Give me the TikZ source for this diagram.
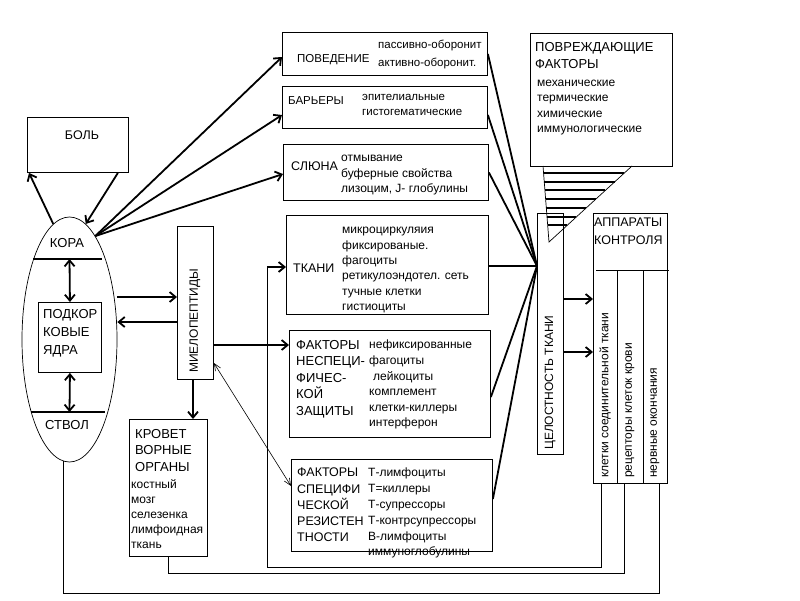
\documentclass[tikz,border=0pt]{standalone}
\usepackage{fontspec}
\setmainfont{Liberation Sans}
\usetikzlibrary{arrows.meta,shapes.geometric}
\tikzset{
  box/.style={draw, line width=0.9pt, anchor=north west, inner sep=0pt},
  lst/.style={anchor=north west, inner sep=0pt, align=left, font=\fontsize{12}{15.5}\selectfont, execute at begin node=\strut},
  ttl/.style={anchor=north west, inner sep=0pt, align=left, font=\fontsize{13}{16.5}\selectfont, execute at begin node=\strut},
  lbl/.style={anchor=west, inner sep=0pt, font=\fontsize{12.5}{15}\selectfont},
  vert/.style={rotate=90, anchor=west, inner sep=0pt, font=\fontsize{12}{14}\selectfont},
  barb/.tip={Straight Barb[length=6pt,width=10pt]},
  arr/.style={line width=1.8pt, -barb},
  dbl/.style={line width=1.8pt, barb-barb},
  wire/.style={line width=1pt},
  conv/.style={line width=1.8pt},
}
\begin{document}
\begin{tikzpicture}[x=1pt, y=-1pt]
\useasboundingbox (0,0) rectangle (800,600);

\node[box, minimum width=101pt, minimum height=55pt] (bol) at (27,117) {};
\node[box, minimum width=205pt, minimum height=43pt] (pov) at (282,32) {};
\node[box, minimum width=205pt, minimum height=42pt] (bar) at (282,86) {};
\node[box, minimum width=205pt, minimum height=56pt] (sl) at (283,144) {};
\node[box, minimum width=202pt, minimum height=99pt] (tk) at (286,215) {};
\node[box, minimum width=201pt, minimum height=107pt] (nsp) at (289,330) {};
\node[box, minimum width=201pt, minimum height=92pt] (spc) at (291,459) {};
\node[box, minimum width=142pt, minimum height=133pt] (povr) at (530,33) {};
\node[box, minimum width=26pt, minimum height=241pt] (cel) at (537,213) {};
\node[box, minimum width=74pt, minimum height=270pt] (app) at (593,213) {};
\node[box, minimum width=36pt, minimum height=153pt] (miel) at (177,226) {};
\node[box, minimum width=63pt, minimum height=70pt] (podk) at (38,302) {};
\node[box, minimum width=78pt, minimum height=137pt] (krov) at (129,419) {};
\node[draw, ellipse, line width=0.7pt, inner sep=0pt, minimum width=95pt, minimum height=245pt] (gm) at (69.5,339.5) {};

\node[lbl, anchor=center] (bolt) at (82,135) {БОЛЬ};
\node[lbl, font=\fontsize{11.5}{14}\selectfont] (povt) at (297,60) {ПОВЕДЕНИЕ};
\node[lst, font=\fontsize{11.5}{18}\selectfont] (povl) at (378,39.4) {пассивно-оборонит\\активно-оборонит.};
\node[lbl, font=\fontsize{11.5}{14}\selectfont] (bart) at (288,101) {БАРЬЕРЫ};
\node[lst, font=\fontsize{11.5}{15}\selectfont] (barl) at (362,94.5) {эпителиальные\\гистогематические};
\node[lbl] (slt) at (291,166) {СЛЮНА};
\node[lst] (sll) at (341,155) {отмывание\\буферные свойства\\лизоцим, J- глобулины};
\node[lbl] (tkt) at (293,268) {ТКАНИ};
\node[lst, font=\fontsize{12}{15.4}\selectfont] (tkl) at (342,227) {микроциркуляия\\фиксированые.\\фагоциты\\ретикулоэндотел. сеть\\тучные клетки\\гистиоциты};
\node[ttl] (nspt) at (296,340) {ФАКТОРЫ\\НЕСПЕЦИ-\\ФИЧЕС-\\КОЙ\\ЗАЩИТЫ};
\node[lst, font=\fontsize{12}{15.6}\selectfont] (nspl) at (369,340) {нефиксированные\\фагоциты\\\hspace{4pt}лейкоциты\\комплемент\\клетки-киллеры\\интерферон};
\node[ttl, font=\fontsize{12.5}{16.25}\selectfont] (spct) at (297,468) {ФАКТОРЫ\\СПЕЦИФИ\\ЧЕСКОЙ\\РЕЗИСТЕН\\ТНОСТИ};
\node[lst, font=\fontsize{12}{15.8}\selectfont] (spcl) at (368,468) {Т-лимфоциты\\Т=киллеры\\Т-супрессоры\\Т-контрсупрессоры\\В-лимфоциты\\иммуноглобулины};
\node[ttl, font=\fontsize{13}{17}\selectfont] (povrt) at (535,42) {ПОВРЕЖДАЮЩИЕ\\ФАКТОРЫ};
\node[lst, font=\fontsize{12}{15.3}\selectfont] (povrl) at (537,80) {механические\\термические\\химические\\иммунологические};
\node[vert] (celt) at (550,450) {ЦЕЛОСТНОСТЬ ТКАНИ};
\node[ttl, font=\fontsize{12.5}{18}\selectfont] (appt) at (594,217.5) {АППАРАТЫ\\КОНТРОЛЯ};
\node[vert] (ap1) at (605,478) {клетки соединительной ткани};
\node[vert] (ap2) at (630,478) {рецепторы клеток крови};
\node[vert] (ap3) at (655,478) {нервные окончания};
\node[vert] (mielt) at (195,373) {МИЕЛОПЕПТИДЫ};
\node[ttl, font=\fontsize{13}{18}\selectfont] (podkt) at (43,309) {ПОДКОР\\КОВЫЕ\\ЯДРА};
\node[ttl] (krovt) at (135,429) {КРОВЕТ\\ВОРНЫЕ\\ОРГАНЫ};
\node[lst, font=\fontsize{12}{15}\selectfont] (krovl) at (131,479) {костный\\мозг\\селезенка\\лимфоидная\\ткань};
\node[lbl, anchor=center, font=\fontsize{13}{15}\selectfont] (kora) at (67,243) {КОРА};
\node[lbl, anchor=center, font=\fontsize{13}{15}\selectfont] (stvol) at (67,425) {СТВОЛ};

\coordinate (k1) at (33,259);
\coordinate (k2) at (102,259);
\coordinate (k0) at (69.5,259);
\coordinate (s1) at (31,412);
\coordinate (s2) at (105,412);
\coordinate (s0) at (69.5,412);
\coordinate (cv) at (537,266);

\path[draw,line width=1.8pt] (k1) -- (k2);
\path[draw,line width=1.8pt] (s1) -- (s2);
\path[draw,dbl] (k0) -- (podk.north);
\path[draw,dbl] (podk.south) -- (s0);

\path[draw,arr] (gm.98) -- ([xshift=2pt]bol.south west);
\path[draw,arr] ([xshift=-11pt]bol.south east) -- (gm.82);
\path[draw,arr] (gm.76) -- (pov.west |- 0,57);
\path[draw,arr] (gm.76) -- (bar.west |- 0,115);
\path[draw,arr] (gm.76) -- (sl.west |- 0,174);

\path[draw,arr] (gm.east |- 0,297) -- (miel.west |- 0,297);
\path[draw,arr] (miel.west |- 0,322) -- (gm.east |- 0,322);
\path[draw,arr] (miel.south -| 193,0) -- (krov.north -| 193,0);
\path[draw,arr] (miel.east |- 0,345) -- (nsp.west |- 0,345);
\path[draw,line width=0.6pt,{Straight Barb[length=7pt,width=6pt]}-{Straight Barb[length=7pt,width=6pt]}] (miel.east |- 0,363) -- (spc.west |- 0,486);

\path[draw,conv] (pov.east) -- (cv);
\path[draw,conv] (bar.east |- 0,115) -- (cv);
\path[draw,conv] (sl.east) -- (cv);
\path[draw,conv] (tk.east |- cv) -- (cv);
\path[draw,conv] (nsp.east |- 0,397) -- (cv);
\path[draw,conv] (spc.east |- 0,499) -- (cv);

\path[draw,arr] (cel.east |- 0,299) -- (app.west |- 0,299);
\path[draw,arr] (cel.east |- 0,352) -- (app.west |- 0,352);

\path[draw,line width=0.9pt] (596,270) -- (669,270);
\path[draw,line width=0.9pt] (617,270) -- (app.south -| 617,0);
\path[draw,line width=0.9pt] (643,270) -- (app.south -| 643,0);

\path[draw,wire] (app.south -| 601,0) |- (267,567) -- (267,267) coordinate (w1);
\path[draw,arr] (w1) -- (tk.west |- w1);
\path[draw,wire] (app.south -| 624,0) |- (krov.south |- 0,573) -- (krov.south);
\path[draw,wire] (app.south -| 659,0) |- (gm.267 |- 0,593) -- (gm.267);

\path[draw,line width=0.7pt] (543,166) -- (549,242) -- (632,166);
\foreach \i in {0,...,6}
  \path[draw,line width=2pt] ({543+6*(7+8.7*\i)/76},{173+8.7*\i}) -- ({632-1.1*(7+8.7*\i)},{173+8.7*\i});
\end{tikzpicture}
\end{document}
